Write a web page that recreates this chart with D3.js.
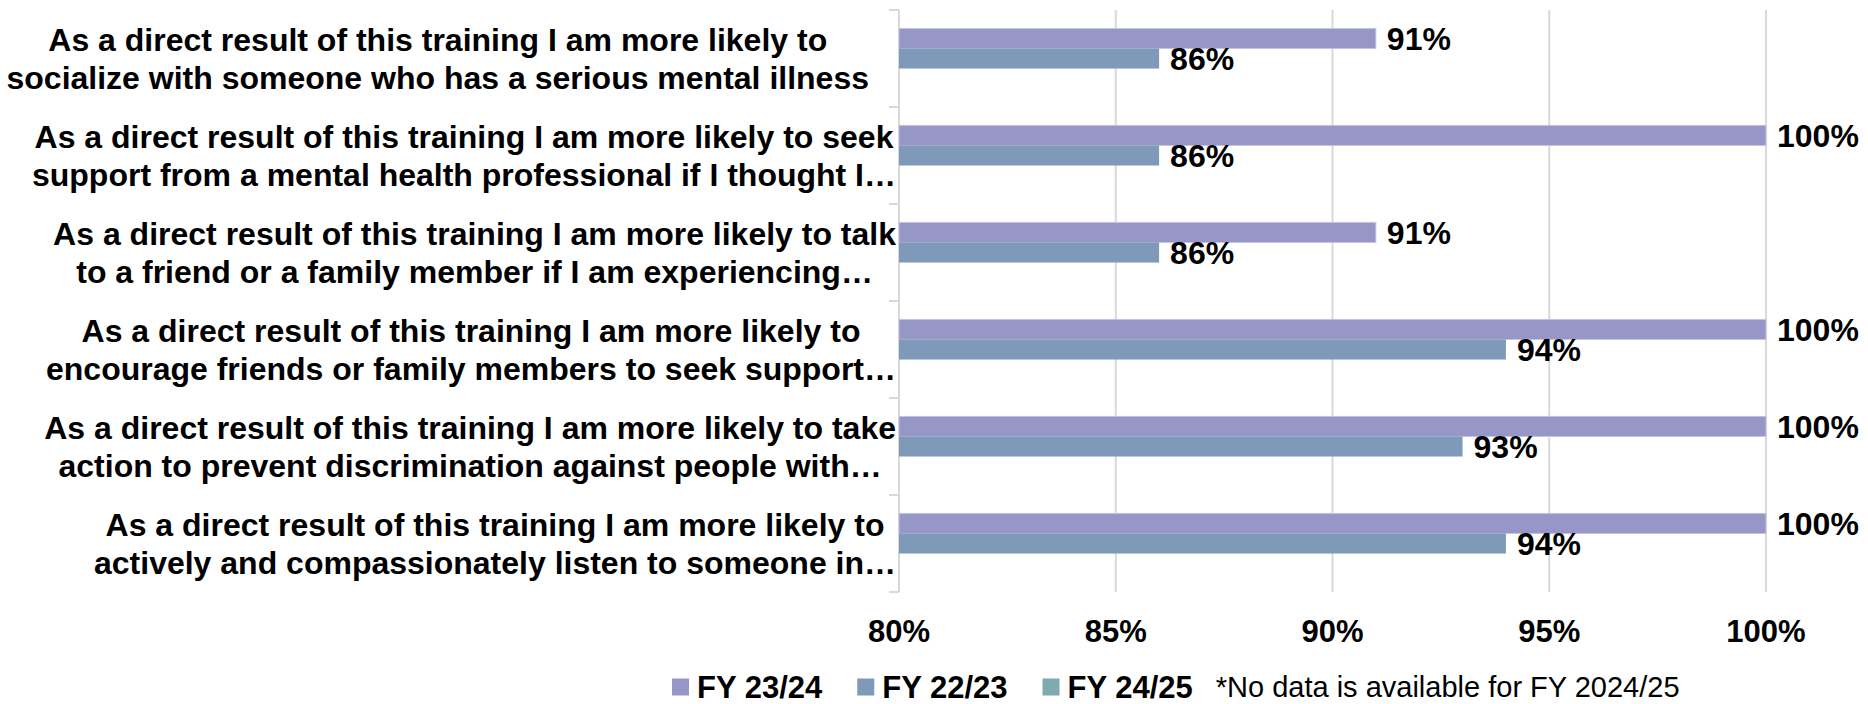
<!DOCTYPE html>
<html>
<head>
<meta charset="utf-8">
<script src="https://cdn.jsdelivr.net/npm/d3@7"></script>
<style>
  html, body { margin: 0; padding: 0; background: #fff; }
  svg { display: block; font-family: "Liberation Sans", Arial, sans-serif; }
</style>
</head>
<body>
<svg id="chart" width="1868" height="704"></svg>
<script>
// ---- data ----
const categories = [
  ["As a direct result of this training I am more likely to", "socialize with someone who has a serious mental illness"],
  ["As a direct result of this training I am more likely to seek", "support from a mental health professional if I thought I…"],
  ["As a direct result of this training I am more likely to talk", "to a friend or a family member if I am experiencing…"],
  ["As a direct result of this training I am more likely to", "encourage friends or family members to seek support…"],
  ["As a direct result of this training I am more likely to take", "action to prevent discrimination against people with…"],
  ["As a direct result of this training I am more likely to", "actively and compassionately listen to someone in…"]
];
const seriesNames = ["FY 23/24", "FY 22/23", "FY 24/25"];
const fy2324 = [91, 100, 91, 100, 100, 100];
const fy2223 = [86, 86, 86, 94, 93, 94];
const fy2425 = [null, null, null, null, null, null]; // no data available
const xTicks = [80, 85, 90, 95, 100];
const noteText = "*No data is available for FY 2024/25";

(function draw() {
const seriesValues = [fy2324, fy2223, fy2425];
const colors = ["#9797C7", "#7F99B9", "#7FAAB1"];

// ---- layout ----
const svg = d3.select("#chart");
const pLeft = 899, pRight = 1766, pTop = 10, pBottom = 592;

const x = d3.scaleLinear().domain([80, 100]).range([pLeft, pRight]);
const catIdx = d3.range(categories.length);
const y0 = d3.scaleBand().domain(catIdx).range([pTop, pBottom]).paddingInner(0.38).paddingOuter(0.19);
const y1 = d3.scaleBand().domain(seriesNames).range([0, y0.bandwidth()]);

// gridlines
svg.append("g").selectAll("line").data(xTicks).join("line")
  .attr("x1", d => x(d)).attr("x2", d => x(d))
  .attr("y1", pTop).attr("y2", pBottom)
  .attr("stroke", "#d9d9d9").attr("stroke-width", 2);

// left axis ticks at category boundaries
const bounds = d3.range(categories.length + 1).map(i => pTop + i * (pBottom - pTop) / categories.length);
svg.append("g").selectAll("line").data(bounds).join("line")
  .attr("x1", pLeft - 10).attr("x2", pLeft)
  .attr("y1", d => d).attr("y2", d => d)
  .attr("stroke", "#d9d9d9").attr("stroke-width", 2);

// bars
const rows = [];
seriesNames.forEach((s, si) => {
  seriesValues[si].forEach((v, ci) => {
    if (v != null) rows.push({ s, si, ci, v });
  });
});
svg.append("g").selectAll("rect").data(rows).join("rect")
  .attr("x", x(80))
  .attr("y", d => y0(d.ci) + y1(d.s))
  .attr("width", d => x(d.v) - x(80))
  .attr("height", y1.bandwidth())
  .attr("fill", d => colors[d.si])
  .attr("stroke", d => d.si === 0 ? "#c4c4e0" : "none")
  .attr("stroke-width", 1);

// value labels
svg.append("g").selectAll("text").data(rows).join("text")
  .attr("x", d => x(d.v) + 11)
  .attr("y", d => y0(d.ci) + y1(d.s) + y1.bandwidth() / 2)
  .attr("dy", "0.36em")
  .attr("font-size", 32).attr("font-weight", "bold").attr("fill", "#000")
  .text(d => d.v + "%");

// x tick labels
svg.append("g").selectAll("text").data(xTicks).join("text")
  .attr("x", d => x(d)).attr("y", 642)
  .attr("text-anchor", "middle")
  .attr("font-size", 31).attr("font-weight", "bold").attr("fill", "#000")
  .text(d => d + "%");

// category labels
const catG = svg.append("g").selectAll("g").data(categories).join("g");
catG.each(function(lines, i) {
  const g = d3.select(this);
  const cy = y0(i) + y0.bandwidth() / 2;
  const texts = lines.map((ln, j) => g.append("text")
    .attr("y", cy + (j - (lines.length - 1) / 2) * 38)
    .attr("dy", "0.36em")
    .attr("text-anchor", "middle")
    .attr("font-size", 32).attr("font-weight", "bold").attr("fill", "#000")
    .text(ln));
  const maxW = d3.max(texts, t => t.node().getComputedTextLength());
  const rightEdge = lines.some(l => l.endsWith("…")) ? 896 : 869;
  texts.forEach(t => t.attr("x", rightEdge - maxW / 2));
});

// legend
const legend = svg.append("g");
let lx = 672;
const ly = 687;
seriesNames.forEach((s, i) => {
  legend.append("rect").attr("x", lx).attr("y", ly - 8.5).attr("width", 17).attr("height", 17).attr("fill", colors[i]);
  const t = legend.append("text").attr("x", lx + 25).attr("y", ly).attr("dy", "0.36em")
    .attr("font-size", 31).attr("font-weight", "bold").attr("fill", "#000").text(s);
  lx = lx + 25 + t.node().getComputedTextLength() + (i < seriesNames.length - 1 ? 35 : 23);
});
legend.append("text").attr("x", lx).attr("y", ly).attr("dy", "0.36em")
  .attr("font-size", 29).attr("fill", "#000").text(noteText);
})();
</script>
</body>
</html>
